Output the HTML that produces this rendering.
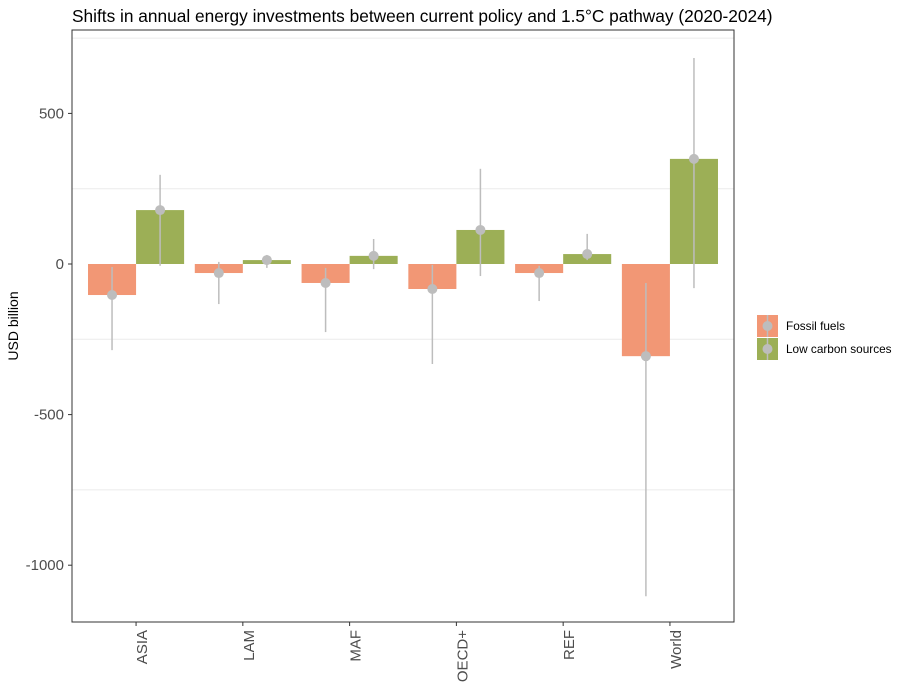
<!DOCTYPE html>
<html><head><meta charset="utf-8"><style>
body{margin:0;background:#fff;}
svg{display:block;font-family:"Liberation Sans",Arial,sans-serif;}
</style></head><body>
<svg id="chart" width="906" height="693">
<text x="72" y="22" font-size="17.3" fill="#000">Shifts in annual energy investments between current policy and 1.5°C pathway (2020-2024)</text>
<text transform="translate(18,326) rotate(-90)" text-anchor="middle" font-size="14" fill="#000">USD billion</text>
<g id="grid"></g><g id="bars"></g><g id="errs"></g><g id="axes"></g>
<rect x="72" y="30" width="662" height="592" fill="none" stroke="#333" stroke-width="1"/>
<g>
<g>
<rect x="757" y="315" width="21" height="22" fill="#f29775"/>
<line x1="767.5" y1="315" x2="767.5" y2="337" stroke="#bdbdbd" stroke-width="1.5"/>
<circle cx="767.5" cy="326" r="5" fill="#bdbdbd"/>
<text x="786" y="330" font-size="11.8" fill="#000">Fossil fuels</text></g>
<g>
<rect x="757" y="338" width="21" height="22" fill="#9caf56"/>
<line x1="767.5" y1="338" x2="767.5" y2="360" stroke="#bdbdbd" stroke-width="1.5"/>
<circle cx="767.5" cy="349" r="5" fill="#bdbdbd"/>
<text x="786" y="353" font-size="11.8" fill="#000">Low carbon sources</text></g>
</g>
</svg>
<script>
const categories=["ASIA","LAM","MAF","OECD+","REF","World"];
const fossil=[-103,-30,-63,-83,-30,-306];
const fossilLow=[-286,-133,-226,-332,-123,-1103];
const fossilHigh=[-10,7,-13,-3,-6,-63];
const lowCarbon=[179,13,27,113,33,349];
const lowCarbonLow=[-6,-13,-17,-40,13,-80];
const lowCarbonHigh=[296,30,83,316,100,684];
const yTicks=[500,0,-500,-1000];
const yMinor=[750,250,-250,-750];
const NS="http://www.w3.org/2000/svg";
const y=v=>264-v*0.3012;
const step=662/6.2;
const xc=i=>72+(i+0.6)*step;
const bw=step*0.45;
function mk(t,a,p){const e=document.createElementNS(NS,t);for(const k in a)e.setAttribute(k,a[k]);p.appendChild(e);return e;}
const G=document.getElementById('grid'),B=document.getElementById('bars'),E=document.getElementById('errs'),A=document.getElementById('axes');
yMinor.forEach(v=>{const l=mk('line',{x1:72,x2:734,y1:y(v),y2:y(v),stroke:'#ebebeb','stroke-width':1},G);

});
yTicks.forEach(v=>{const t=mk('text',{x:64,y:y(v)+5,'text-anchor':'end','font-size':15,fill:'#4d4d4d'},A);t.textContent=v;


mk('line',{x1:68,x2:72,y1:y(v),y2:y(v),stroke:'#333'},A);});
categories.forEach((c,i)=>{
 const x=xc(i);
 mk('line',{x1:x,x2:x,y1:622,y2:626,stroke:'#333'},A);
 const t=mk('text',{transform:`translate(${x+11},630) rotate(-90)`,'text-anchor':'end','font-size':15,fill:'#4d4d4d'},A);t.textContent=c;
 
 
 [[fossil,fossilLow,fossilHigh,'#f29775',x-bw,'fossil'],[lowCarbon,lowCarbonLow,lowCarbonHigh,'#9caf56',x,'lowcarbon']].forEach(([s,lo,hi,col,bx,nm])=>{
  const v=s[i];
  const r=mk('rect',{x:bx,width:bw,y:Math.min(y(v),y(0)),height:Math.abs(y(v)-y(0)),fill:col},B);
  
  
  const cx=bx+bw/2;
  const l=mk('line',{x1:cx,x2:cx,y1:y(hi[i]),y2:y(lo[i]),stroke:'#bdbdbd','stroke-width':1.5},E);
  
  
  const p=mk('circle',{cx:cx,cy:y(v),r:5,fill:'#bdbdbd'},E);
  
  
 });
});
</script>
</body></html>
